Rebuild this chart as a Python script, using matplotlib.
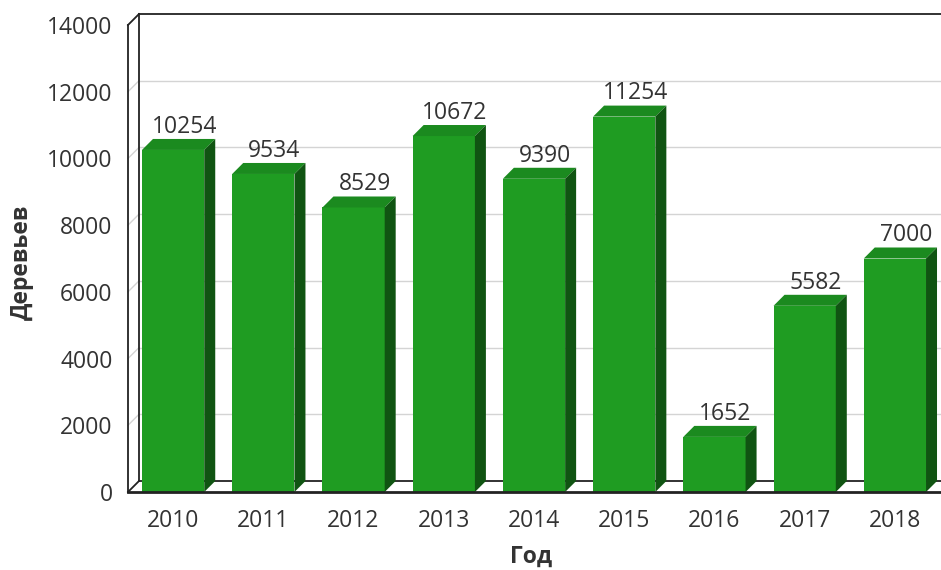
import matplotlib
matplotlib.use("Agg")
import matplotlib.pyplot as plt
from matplotlib.patches import Polygon

# data
years = ['2010', '2011', '2012', '2013', '2014', '2015', '2016', '2017', '2018']
trees = [10254, 9534, 8529, 10672, 9390, 11254, 1652, 5582, 7000]
y_ticks = [0, 2000, 4000, 6000, 8000, 10000, 12000, 14000]

plt.rcParams['font.family'] = ['Open Sans', 'DejaVu Sans']

W, H = 941, 570
fig = plt.figure(figsize=(W / 100, H / 100), dpi=100)
# front plane of the pseudo-3d box, in pixels
left, right, bottom, top = 128, 940, 492, 25
ax = fig.add_axes([left / W, (H - bottom) / H, (right - left) / W, (bottom - top) / H])
ax.set_xlim(-0.5, len(years) - 0.5)
ax.set_ylim(0, 14000)
for s in ax.spines.values():
    s.set_visible(False)

# depth of the 3d effect: 11 px right and up, converted to data units
depth = 11
dx = depth * 9 / (right - left)
dy = depth * 14000 / (bottom - top)

frame = '#222222'
grid = '#d4d4d4'
x0, x1 = -0.5, len(years) - 0.5
fs = 16.5

# back wall grid lines + side wall diagonals
for t in y_ticks:
    col = frame if t in (0, 14000) else grid
    lw = 1.3 if t in (0, 14000) else 1.0
    ax.plot([x0 + dx, x1 + dx + 1], [t + dy, t + dy], color=col, lw=lw, clip_on=False, zorder=1)
    ax.plot([x0, x0 + dx], [t, t + dy], color=col, lw=lw, clip_on=False, zorder=1)
# back wall left edge and front left edge
ax.plot([x0 + dx, x0 + dx], [dy, 14000 + dy], color=frame, lw=1.3, clip_on=False, zorder=1)
ax.plot([x0, x0], [0, 14000], color=frame, lw=1.3, clip_on=False, zorder=4)
# front floor edge
ax.plot([x0, x1 + 1], [0, 0], color=frame, lw=2, clip_on=False, zorder=4)

# bars
bw = 0.69
front = '#1f9c22'
top_c = '#1b8a1f'
side_c = '#105412'
xs = range(len(years))
ax.bar(xs, trees, width=bw, color=front, zorder=3)
for i, v in zip(xs, trees):
    a, b = i - bw / 2, i + bw / 2
    ax.add_patch(Polygon([(a, v), (a + dx, v + dy), (b + dx, v + dy), (b, v)],
                         closed=True, facecolor=top_c, edgecolor='none', zorder=3))
    ax.add_patch(Polygon([(b, 0), (b + dx, dy), (b + dx, v + dy), (b, v)],
                         closed=True, facecolor=side_c, edgecolor='none', zorder=3))
    ax.annotate(str(v), (i + dx, v + dy), xytext=(0, 4.5), textcoords='offset points',
                ha='center', va='baseline', fontsize=fs, color='#333333', zorder=5)

ax.set_xticks(list(xs))
ax.set_xticklabels(years)
ax.set_yticks(y_ticks)
ax.set_yticklabels([str(t) for t in y_ticks])
ax.tick_params(axis='both', length=0, labelsize=fs, labelcolor='#333333')
ax.tick_params(axis='y', pad=11)
ax.tick_params(axis='x', pad=12)

fig.text(22 / W, 1 - 262 / H, 'Деревьев', rotation=90, ha='center', va='center',
         fontsize=fs, fontweight='bold', color='#333333')
fig.text(531 / W, 1 - 557 / H, 'Год', ha='center', va='center',
         fontsize=fs, fontweight='bold', color='#333333')

fig.savefig('out.png', dpi=100)
